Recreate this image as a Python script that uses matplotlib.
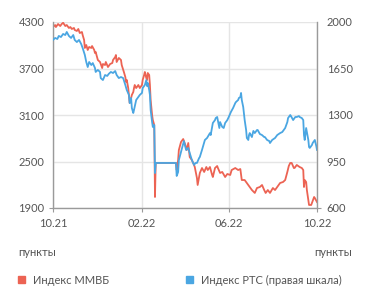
import numpy as np
import pandas as pd
import matplotlib
matplotlib.use("Agg")
import matplotlib.pyplot as plt

plt.rcParams['font.family'] = ['Lato', 'DejaVu Sans']

start = pd.Timestamp('2021-10-01')

# Индекс ММВБ (left axis): days from 2021-10-01, value
moex_days = [0, 3, 4, 7, 10, 12, 14, 17, 19, 22, 24, 26, 29, 30, 33, 35, 37, 40, 41, 43,
             44, 46, 48, 50, 53, 54, 57, 58, 59, 62, 65, 68, 69, 72, 73, 76, 79, 82, 83, 86,
             87, 88, 91, 94, 95, 98, 100, 101, 102, 104, 105, 106, 108, 109, 111, 112, 113, 115, 118, 120,
             123, 124, 126, 127, 129, 130, 131, 133, 134, 135, 137, 138, 140, 141, 142, 169, 170, 171, 173, 174,
             177, 180, 183, 185, 187, 189, 192, 195, 196, 199, 200, 203, 206, 209, 212, 214, 217, 220, 221, 224,
             227, 228, 231, 234, 238, 241, 245, 247, 252, 256, 259, 261, 265, 268, 272, 275, 279, 282, 286, 289,
             292, 294, 297, 300, 304, 307, 311, 314, 318, 321, 324, 326, 328, 330, 333, 334, 337, 341, 344, 346,
             347, 348, 350, 351, 353, 354, 357, 358, 361, 362, 365]
moex_vals = [4235, 4261, 4235, 4274, 4248, 4274, 4290, 4248, 4261, 4223, 4235, 4210, 4223, 4197, 4184, 4210, 4158, 4171, 4132, 4068,
             3965, 4003, 3939, 3978, 3965, 3990, 3939, 3900, 3913, 3810, 3784, 3706, 3758, 3745, 3784, 3719, 3758, 3771, 3810, 3848,
             3874, 3784, 3836, 3810, 3745, 3655, 3590, 3526, 3552, 3448, 3358, 3255, 3320, 3358, 3397, 3448, 3487, 3448, 3487, 3448,
             3487, 3552, 3616, 3655, 3577, 3552, 3642, 3616, 3487, 3294, 3100, 3035, 2971, 2042, 2481, 2481, 2481, 2390, 2519, 2648,
             2752, 2790, 2713, 2648, 2739, 2558, 2519, 2455, 2429, 2287, 2197, 2352, 2416, 2365, 2429, 2390, 2429, 2326, 2300, 2416,
             2442, 2416, 2352, 2365, 2300, 2339, 2326, 2390, 2416, 2390, 2403, 2261, 2261, 2223, 2171, 2132, 2094, 2158, 2171, 2197,
             2132, 2094, 2132, 2094, 2158, 2132, 2184, 2223, 2235, 2261, 2365, 2442, 2481, 2481, 2416, 2416, 2455, 2429, 2416, 2390,
             2171, 2261, 2235, 2132, 2003, 1939, 1939, 1965, 2042, 2029, 1977]

# Индекс РТС (right axis)
rts_days = [0, 3, 6, 8, 11, 14, 17, 19, 22, 25, 28, 30, 33, 36, 39, 41, 44, 46, 48, 50,
            53, 55, 58, 59, 62, 65, 66, 69, 72, 75, 77, 80, 83, 86, 88, 91, 94, 97, 100, 102,
            105, 106, 108, 109, 111, 112, 115, 118, 120, 123, 124, 127, 129, 130, 131, 133, 134, 135, 137, 138,
            140, 141, 142, 170, 171, 173, 174, 177, 180, 181, 184, 187, 189, 192, 195, 197, 199, 202, 203, 206,
            210, 213, 217, 218, 221, 224, 225, 227, 230, 231, 234, 236, 238, 241, 243, 246, 249, 252, 253, 256,
            257, 259, 260, 261, 263, 265, 267, 268, 270, 271, 272, 275, 277, 279, 282, 283, 286, 289, 292, 293,
            296, 299, 300, 303, 307, 310, 314, 317, 321, 324, 325, 328, 329, 332, 335, 337, 340, 341, 344, 346,
            347, 348, 350, 351, 353, 354, 355, 358, 359, 362, 364, 365]
rts_vals = [1865, 1880, 1872, 1895, 1887, 1910, 1902, 1925, 1895, 1880, 1902, 1865, 1849, 1865, 1834, 1804, 1752, 1699, 1661, 1699,
            1676, 1691, 1654, 1624, 1639, 1624, 1578, 1563, 1601, 1594, 1609, 1624, 1616, 1631, 1601, 1578, 1586, 1578, 1526, 1488,
            1451, 1390, 1428, 1353, 1315, 1338, 1413, 1435, 1451, 1466, 1503, 1526, 1563, 1518, 1541, 1488, 1451, 1338, 1247, 1210,
            1225, 863, 939, 939, 841, 871, 961, 1022, 1082, 1104, 1037, 1052, 1014, 961, 924, 939, 939, 976, 984, 1037,
            1112, 1127, 1164, 1149, 1240, 1262, 1277, 1285, 1202, 1247, 1210, 1202, 1240, 1262, 1285, 1323, 1353, 1390, 1398, 1413,
            1428, 1435, 1466, 1413, 1360, 1262, 1187, 1127, 1112, 1149, 1164, 1134, 1180, 1164, 1187, 1187, 1157, 1149, 1134, 1134,
            1112, 1104, 1089, 1112, 1127, 1149, 1164, 1172, 1202, 1247, 1277, 1300, 1292, 1262, 1285, 1285, 1292, 1285, 1277, 1262,
            1149, 1112, 1202, 1172, 1112, 1059, 1052, 1074, 1089, 1112, 1067, 1037]

left_ticks = [1900, 2500, 3100, 3700, 4300]
right_ticks = [600, 950, 1300, 1650, 2000]
x_tick_dates = ['2021-10-01', '2022-02-01', '2022-06-01', '2022-10-01']
x_tick_labels = ['10.21', '02.22', '06.22', '10.22']

moex_x = start + pd.to_timedelta(moex_days, unit='D')
rts_x = start + pd.to_timedelta(rts_days, unit='D')

red = '#ec6353'
blue = '#4aa6e2'
txt = '#555555'
grid = '#e5e5e5'
spine = '#9a9a9a'
fs = 8

fig = plt.figure(figsize=(3.71, 3.02), dpi=100, facecolor='w')
ax = fig.add_axes([53 / 371, 1 - 208 / 302, 264 / 371, 186 / 302])
ax2 = ax.twinx()

ax.plot(moex_x, moex_vals, color=red, lw=1.3, solid_joinstyle='round')
ax2.plot(rts_x, rts_vals, color=blue, lw=1.3, solid_joinstyle='round')

ax.set_xlim(pd.Timestamp(x_tick_dates[0]), pd.Timestamp(x_tick_dates[-1]))
ax.set_ylim(left_ticks[0], left_ticks[-1])
ax2.set_ylim(right_ticks[0], right_ticks[-1])
ax.set_yticks(left_ticks)
ax2.set_yticks(right_ticks)
ax.set_xticks(pd.to_datetime(x_tick_dates))
ax.set_xticklabels(x_tick_labels)

ax.grid(True, color=grid, lw=1)
ax.set_axisbelow(True)

for a in (ax, ax2):
    a.spines['top'].set_visible(False)
    for s in ('left', 'right', 'bottom'):
        a.spines[s].set_color(spine)
        a.spines[s].set_linewidth(1)
ax.spines['right'].set_visible(False)
ax2.spines['left'].set_visible(False)
ax2.spines['bottom'].set_visible(False)

ax.tick_params(axis='y', length=3, color=spine, pad=3, labelsize=fs, labelcolor=txt)
ax2.tick_params(axis='y', length=3, color=spine, pad=4, labelsize=fs, labelcolor=txt)
ax.tick_params(axis='x', length=3, color=spine, pad=4, labelsize=fs, labelcolor=txt)
# only the bottom y ticks are drawn as small marks
for t in ax.yaxis.get_major_ticks()[1:]:
    t.tick1line.set_visible(False)
for t in ax2.yaxis.get_major_ticks()[1:]:
    t.tick2line.set_visible(False)

fig.text(18 / 371, 1 - 252 / 302, 'пункты', fontsize=fs, color=txt, va='center', ha='left')
fig.text(352 / 371, 1 - 252 / 302, 'пункты', fontsize=fs, color=txt, va='center', ha='right')

# legend
fig.patches.append(plt.Rectangle((18 / 371, 1 - 283 / 302), 7 / 371, 7 / 302,
                                 transform=fig.transFigure, color=red, figure=fig))
fig.text(33 / 371, 1 - 280 / 302, 'Индекс ММВБ', fontsize=fs, color=txt, va='center', ha='left')
fig.patches.append(plt.Rectangle((186 / 371, 1 - 283 / 302), 7 / 371, 7 / 302,
                                 transform=fig.transFigure, color=blue, figure=fig))
fig.text(201 / 371, 1 - 280 / 302, 'Индекс РТС (правая шкала)', fontsize=fs, color=txt, va='center', ha='left')

fig.savefig('out.png', dpi=100)
